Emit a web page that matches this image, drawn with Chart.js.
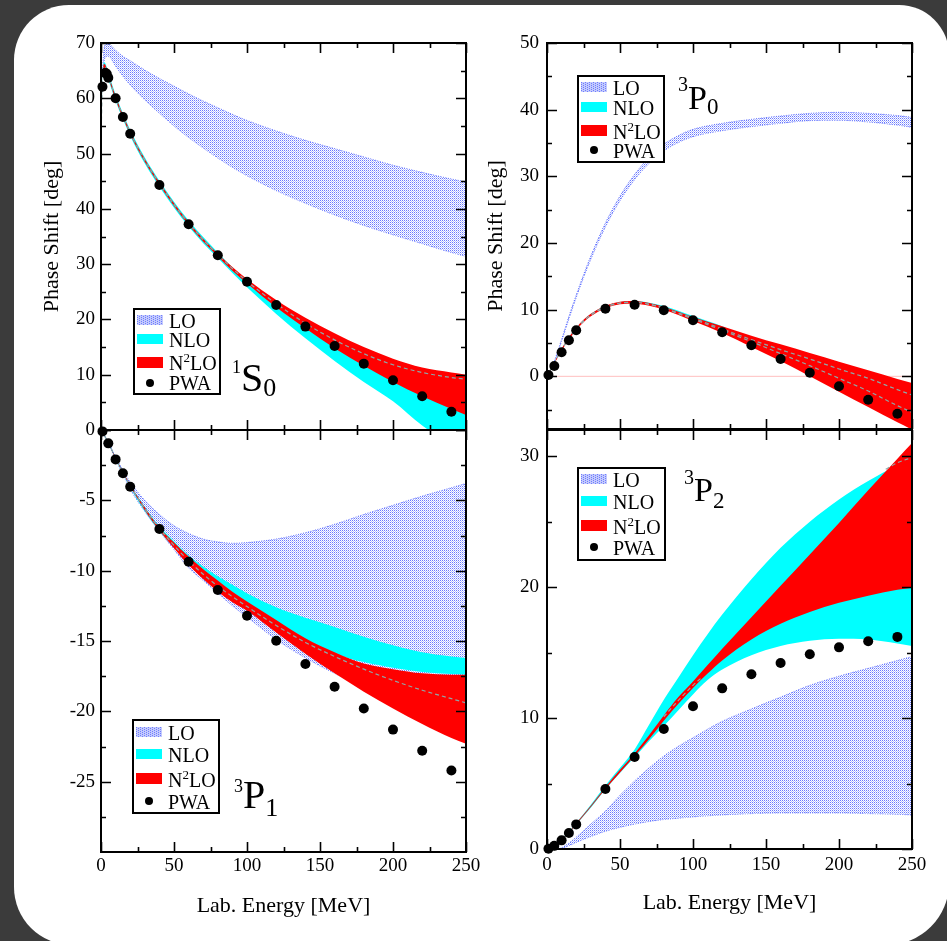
<!DOCTYPE html>
<html>
<head>
<meta charset="utf-8">
<title>NN phase shifts</title>
<script src="https://cdn.jsdelivr.net/npm/chart.js@4.4.1/dist/chart.umd.min.js"></script>
<style>
  html, body { margin: 0; padding: 0; }
  body { width: 947px; height: 941px; background: #3b3b3b; position: relative; overflow: hidden;
         font-family: "Liberation Serif", "Times New Roman", Times, serif; }
  #card { position: absolute; left: 14px; top: 5px; width: 935px; height: 940px; background: #fff;
          border-radius: 55px 50px 62px 58px; }
  canvas { position: absolute; }
  .legend { position: absolute; box-sizing: border-box; border: 2px solid #000; background: #fff; font-size: 20px; color: #000; }
  .row { position: absolute; left: 0; width: 100%; height: 20px; line-height: 20px; }
  .sw { position: absolute; left: 2px; top: 4px; width: 26px; height: 10px; }
  .sw.nlo { background: #00ffff; }
  .sw.n2 { background: #ff0000; height: 11px; top: 3.5px; }
  .sw.pwa { left: 11px; top: 5.5px; width: 8px; height: 8px; border-radius: 50%; background: #000; }
  .txt { position: absolute; left: 34px; top: 0; white-space: nowrap; }
  .txt .up { font-size: 13px; position: relative; top: -8px; }
  .wave { position: absolute; line-height: 1; color: #000; white-space: nowrap; }
  .wave span { position: relative; vertical-align: baseline; }
</style>
</head>
<body>
<div id="card"></div>
<canvas id="cS0" width="455" height="415" style="left:20px;top:30px"></canvas>
<canvas id="cP0" width="455" height="414" style="left:470px;top:30px"></canvas>
<canvas id="cP1" width="470" height="515" style="left:20px;top:420px"></canvas>
<canvas id="cP2" width="470" height="515" style="left:470px;top:420px"></canvas>

<div class="wave" style="left:232px;top:358px;font-size:40px"><span style="font-size:18px;top:-18px">1</span>S<span style="font-size:26px;top:5px">0</span></div>
<div class="wave" style="left:678px;top:81px;font-size:34px"><span style="font-size:20px;top:-18px">3</span>P<span style="font-size:23px;top:5px">0</span></div>
<div class="wave" style="left:234px;top:775px;font-size:40px"><span style="font-size:18px;top:-16px">3</span>P<span style="font-size:26px;top:8px">1</span></div>
<div class="wave" style="left:684px;top:473px;font-size:34px"><span style="font-size:20px;top:-17px">3</span>P<span style="font-size:23px;top:7px">2</span></div>

<script>
// energies [MeV] and phase shifts [deg]

const energyTicks = [0, 50, 100, 150, 200, 250];
const energyMinor = [25, 75, 125, 175, 225];

// 1S0
const s0E     = [0.3, 1, 2, 3, 5, 10, 15, 20, 30, 40, 50, 60, 70, 80, 90, 100, 120, 140, 160, 180, 200, 220, 240, 250];
const s0N2Hi  = [56.3, 63.3, 66.2, 66.0, 64.3, 60.4, 57.0, 54.0, 49.0, 44.8, 41.0, 37.6, 34.6, 31.9, 29.5, 27.3, 23.5, 20.3, 17.5, 15.0, 12.9, 11.3, 10.4, 10.0];
const s0N2Lo  = [55.7, 62.7, 65.4, 65.2, 63.7, 59.8, 56.5, 53.5, 48.5, 44.3, 40.5, 37.1, 34.1, 31.4, 28.8, 26.5, 22.2, 18.4, 14.8, 11.6, 8.7, 6.1, 3.8, 2.7];
const s0NloHi = [56.6, 63.6, 66.5, 66.3, 64.6, 60.7, 57.3, 54.3, 49.3, 45.1, 41.3, 37.9, 34.9, 32.1, 29.4, 27.0, 22.8, 19.0, 15.4, 12.2, 9.3, 6.7, 4.4, 3.3];
const s0NloLo = [55.4, 62.4, 65.1, 64.9, 63.4, 59.5, 56.2, 53.2, 48.2, 44.0, 40.2, 36.8, 33.8, 31.1, 28.4, 25.8, 21.0, 16.6, 12.5, 8.7, 5.2, 0.8, -2.6, -4.0];
const s0Dash  = [56.0, 63.0, 65.8, 65.6, 64.0, 60.1, 56.8, 53.8, 48.8, 44.6, 40.8, 37.4, 34.4, 31.7, 29.2, 26.9, 22.85, 19.3, 16.3, 13.8, 11.8, 10.4, 9.5, 9.2];
const s0LoE   = [1, 2, 3, 5, 10, 15, 20, 30, 40, 50, 60, 70, 80, 90, 100, 120, 140, 160, 180, 200, 220, 240, 250];
const s0LoHi  = [65.0, 68.8, 69.7, 69.8, 68.7, 67.6, 66.8, 65.1, 63.6, 62.2, 60.8, 59.5, 58.3, 57.1, 56.0, 54.1, 52.4, 50.9, 49.4, 47.9, 46.6, 45.4, 44.9];
const s0LoLo  = [64.0, 66.5, 67.5, 67.6, 65.8, 64.0, 62.4, 59.7, 57.3, 55.0, 52.9, 51.0, 49.2, 47.5, 46.0, 43.3, 41.0, 38.9, 37.0, 35.3, 33.7, 32.1, 31.4];
const s0PwaE  = [1, 3, 4, 5, 10, 15, 20, 40, 60, 80, 100, 120, 140, 160, 180, 200, 220, 240];
const s0Pwa   = [62.1, 64.6, 64.4, 63.7, 60.0, 56.6, 53.6, 44.3, 37.2, 31.6, 26.8, 22.6, 18.7, 15.2, 12.0, 9.0, 6.1, 3.3];
const s0YTicks = [0, 10, 20, 30, 40, 50, 60, 70];
const s0YMinor = [5, 15, 25, 35, 45, 55, 65];

// 3P0
const p0E     = [0, 5, 10, 15, 20, 25, 30, 40, 50, 60, 70, 80, 90, 100, 120, 140, 160, 180, 200, 220, 240, 250];
const p0N2Hi  = [0, 2.1, 4.15, 5.9, 7.3, 8.5, 9.4, 10.6, 11.2, 11.3, 11.0, 10.45, 9.7, 8.9, 7.5, 6.1, 4.8, 3.5, 2.2, 0.9, -0.4, -1.0];
const p0N2Lo  = [0, 1.9, 3.85, 5.5, 6.9, 8.1, 9.0, 10.2, 10.8, 10.9, 10.6, 10.0, 9.2, 8.3, 6.5, 4.4, 2.3, 0.0, -2.3, -4.6, -6.9, -8.0];
const p0NloHi = [0, 2.1, 4.1, 5.85, 7.25, 8.45, 9.35, 10.55, 11.15, 11.3, 11.05, 10.55, 9.85, 9.05, 7.5, 5.5, 4.0, 2.6, 1.1, -0.3, -2.0, -2.8];
const p0NloLo = [0, 1.95, 3.9, 5.6, 7.0, 8.2, 9.1, 10.3, 10.9, 11.0, 10.7, 10.1, 9.35, 8.5, 6.9, 5.1, 3.3, 1.5, -0.4, -2.3, -4.4, -5.4];
const p0DashA = [0, 2.0, 4.0, 5.7, 7.1, 8.3, 9.2, 10.4, 11.0, 11.1, 10.8, 10.25, 9.5, 8.75, 7.1, 5.5, 4.0, 2.6, 1.1, -0.3, -2.0, -2.8];
const p0DashB = [0, 2.0, 4.0, 5.7, 7.1, 8.3, 9.2, 10.4, 11.0, 11.1, 10.8, 10.2, 9.4, 8.6, 6.9, 5.2, 3.4, 1.6, -0.3, -2.2, -4.4, -5.4];
const p0LoHi  = [0, 2.3, 5.55, 9.0, 12.2, 15.22, 18.05, 23.0, 27.05, 30.3, 32.85, 34.8, 36.12, 37.05, 37.95, 38.55, 39.05, 39.45, 39.6, 39.45, 39.12, 38.85];
const p0LoLo  = [0, 2.1, 5.25, 8.6, 11.8, 14.78, 17.55, 22.4, 26.35, 29.5, 31.95, 33.8, 35.08, 35.95, 36.85, 37.45, 37.95, 38.35, 38.4, 38.15, 37.68, 37.35];
const p0PwaE  = [1, 5, 10, 15, 20, 40, 60, 80, 100, 120, 140, 160, 180, 200, 220, 240];
const p0Pwa   = [0.2, 1.55, 3.6, 5.4, 6.9, 10.15, 10.75, 9.9, 8.4, 6.6, 4.65, 2.6, 0.55, -1.5, -3.5, -5.6];
const p0YTicks = [0, 10, 20, 30, 40, 50];
const p0YMinor = [-5, 5, 15, 25, 35, 45];

// 3P1
const p1E     = [0, 5, 10, 15, 20, 30, 40, 50, 60, 70, 80, 90, 100, 120, 140, 160, 180, 200, 220, 240, 250];
const p1LoHi  = [0, -0.85, -1.9, -2.85, -3.7, -5.0, -6.0, -6.8, -7.35, -7.75, -7.95, -8.05, -8.0, -7.75, -7.3, -6.7, -6.0, -5.35, -4.7, -4.1, -3.8];
const p1LoLo  = [0, -0.95, -2.1, -3.15, -4.2, -5.8, -7.2, -8.5, -9.8, -10.7, -11.6, -12.5, -13.3, -14.9, -16.2, -17.3, -18.2, -19.0, -19.7, -20.4, -20.7];
const p1N2Hi  = [0, -0.88, -1.95, -2.95, -3.9, -5.5, -6.95, -8.0, -9.0, -9.9, -10.7, -11.5, -12.2, -13.5, -14.8, -15.8, -16.6, -17.0, -17.3, -17.4, -17.4];
const p1N2Lo  = [0, -0.92, -2.05, -3.05, -4.0, -5.7, -7.15, -8.4, -9.6, -10.6, -11.5, -12.25, -12.85, -14.4, -15.9, -17.3, -18.6, -19.8, -20.9, -21.9, -22.3];
const p1NloHi = [0, -0.87, -1.93, -2.93, -3.88, -5.45, -6.85, -7.9, -8.9, -9.7, -10.4, -11.0, -11.6, -12.6, -13.35, -14.0, -14.7, -15.3, -15.8, -16.1, -16.2];
const p1NloLo = [0, -0.95, -2.1, -3.1, -4.08, -5.78, -7.2, -8.35, -9.4, -10.3, -11.0, -11.8, -12.5, -13.8, -14.9, -15.9, -16.5, -16.9, -17.2, -17.35, -17.4];
const p1Dash  = [0, -0.9, -2.0, -3.0, -3.95, -5.6, -7.0, -8.2, -9.3, -10.25, -11.1, -11.85, -12.55, -13.9, -15.1, -16.1, -17.0, -17.8, -18.5, -19.1, -19.4];
const p1PwaE  = [1, 5, 10, 15, 20, 40, 60, 80, 100, 120, 140, 160, 180, 200, 220, 240];
const p1Pwa   = [-0.1, -0.95, -2.09, -3.08, -4.03, -7.04, -9.36, -11.37, -13.2, -14.98, -16.64, -18.25, -19.8, -21.3, -22.8, -24.2];
const p1YTicks = [-5, -10, -15, -20, -25];
const p1YMarks = [0, -5, -10, -15, -20, -25];
const p1YMinor = [-2.5, -7.5, -12.5, -17.5, -22.5, -27.5];

// 3P2
const p2E     = [0, 5, 10, 15, 20, 30, 40, 50, 60, 70, 80, 90, 100, 110, 120, 140, 160, 180, 200, 220, 240, 250];
const p2LoHi  = [0, 0, 0.1, 0.45, 0.9, 1.9, 2.9, 4.1, 5.2, 6.2, 7.1, 7.85, 8.5, 9.15, 9.75, 10.7, 11.6, 12.5, 13.2, 13.8, 14.4, 14.7];
const p2LoLo  = [0, 0, 0.05, 0.25, 0.5, 0.95, 1.35, 1.65, 1.9, 2.1, 2.25, 2.35, 2.45, 2.53, 2.6, 2.7, 2.75, 2.75, 2.75, 2.7, 2.65, 2.6];
const p2N2Hi  = [0, 0.32, 0.75, 1.3, 1.96, 3.3, 4.72, 6.05, 7.3, 8.7, 10.2, 11.6, 12.8, 14.05, 15.3, 17.7, 20.1, 22.5, 24.9, 27.4, 29.8, 31.0];
const p2N2Lo  = [0, 0.28, 0.69, 1.24, 1.88, 3.2, 4.58, 5.85, 7.1, 8.4, 9.8, 11.1, 12.3, 13.4, 14.4, 16.0, 17.2, 18.1, 18.8, 19.35, 19.8, 19.95];
const p2NloHi = [0, 0.33, 0.77, 1.33, 2.0, 3.38, 4.85, 6.2, 7.6, 9.5, 11.4, 13.1, 14.8, 16.4, 17.9, 20.6, 23.0, 25.0, 26.7, 28.1, 29.3, 29.8];
const p2NloLo = [0, 0.27, 0.67, 1.22, 1.85, 3.15, 4.55, 5.8, 7.0, 8.25, 9.4, 10.6, 11.8, 12.9, 13.7, 14.8, 15.5, 15.9, 16.05, 16.0, 15.7, 15.5];
const p2DashE = [80, 90, 100, 106];
const p2Dash  = [10.1, 11.35, 12.5, 13.1];
const p2DashTopE = [232, 240, 250];
const p2DashTop  = [29.0, 29.5, 29.9];
const p2PwaE  = [1, 5, 10, 15, 20, 40, 60, 80, 100, 120, 140, 160, 180, 200, 220, 240];
const p2Pwa   = [0.02, 0.25, 0.66, 1.22, 1.88, 4.58, 7.03, 9.17, 10.9, 12.27, 13.34, 14.2, 14.87, 15.4, 15.86, 16.2];
const p2YTicks = [0, 10, 20, 30];
const p2YMinor = [5, 15, 25];

const FONT = '"Liberation Serif", "Times New Roman", Times, serif';

function pts(E, v) {
  return E.map((e, i) => ({x: e, y: v[i]}));
}

// small dotted tile for the LO band
const tile = document.createElement('canvas');
tile.width = tile.height = 2;
const tctx = tile.getContext('2d');
tctx.fillStyle = 'rgb(105,120,255)';
tctx.fillRect(0, 0, 1, 1);
tctx.fillStyle = 'rgb(185,193,255)';
tctx.fillRect(1, 1, 1, 1);

// frame with inward ticks on all four sides
const frameTicks = {
  id: 'frameTicks',
  afterDraw(chart, args, o) {
    const {ctx, chartArea: a} = chart;
    const xs = chart.scales.x, ys = chart.scales.y;
    ctx.save();
    ctx.strokeStyle = '#000';
    ctx.lineWidth = 1.6;
    ctx.beginPath();
    const vx = (vals, len) => vals.forEach(v => {
      const p = Math.round(xs.getPixelForValue(v)) + 0.5;
      ctx.moveTo(p, a.top); ctx.lineTo(p, a.top + len);
      ctx.moveTo(p, a.bottom); ctx.lineTo(p, a.bottom - len);
    });
    const vy = (vals, len) => vals.forEach(v => {
      const p = Math.round(ys.getPixelForValue(v)) + 0.5;
      ctx.moveTo(a.left, p); ctx.lineTo(a.left + len, p);
      ctx.moveTo(a.right, p); ctx.lineTo(a.right - len, p);
    });
    vx(o.xMajor, 10); vx(o.xMinor, 5);
    vy(o.yMajor, 10); vy(o.yMinor, 5);
    ctx.stroke();
    ctx.lineWidth = 2;
    ctx.strokeRect(a.left, a.top, a.right - a.left, a.bottom - a.top);
    ctx.restore();
  }
};

function band(list, E, hi, lo, color) {
  list.push({data: pts(E, hi), fill: '+1', backgroundColor: color, borderColor: 'rgba(0,0,0,0)', borderWidth: 0,
             pointRadius: 0, cubicInterpolationMode: 'monotone'});
  list.push({data: pts(E, lo), fill: false, borderColor: 'rgba(0,0,0,0)', borderWidth: 0,
             pointRadius: 0, cubicInterpolationMode: 'monotone'});
}

function loBand(list, E, hi, lo, pattern) {
  const edge = {borderColor: 'rgba(70,90,255,0.8)', borderWidth: 1, borderDash: [1, 1.5], pointRadius: 0, cubicInterpolationMode: 'monotone'};
  list.push(Object.assign({data: pts(E, hi), fill: '+1', backgroundColor: pattern}, edge));
  list.push(Object.assign({data: pts(E, lo), fill: false}, edge));
}

function dashed(list, E, v) {
  list.push({data: pts(E, v), fill: false, borderColor: '#8ea8a8', borderWidth: 1.2, borderDash: [4, 3],
             pointRadius: 0, cubicInterpolationMode: 'monotone'});
}

function makePanel(id, p) {
  const ctx = document.getElementById(id).getContext('2d');
  const pattern = ctx.createPattern(tile, 'repeat');
  const ds = [];
  ds.push({data: pts(p.pwaE, p.pwa), showLine: false, pointRadius: 5, pointHoverRadius: 5,
           pointBackgroundColor: '#000', pointBorderWidth: 0, clip: false});
  p.dashes.forEach(d => dashed(ds, d[0], d[1]));
  band(ds, p.E, p.n2Hi, p.n2Lo, '#ff0000');
  band(ds, p.E, p.nloHi, p.nloLo, '#00ffff');
  loBand(ds, p.loE, p.loHi, p.loLo, pattern);
  if (p.zeroLine) {
    ds.push({data: pts([0, 250], [0, 0]), fill: false, borderColor: 'rgba(255,150,150,0.6)', borderWidth: 1, pointRadius: 0});
  }

  return new Chart(ctx, {
    type: 'line',
    data: {datasets: ds},
    plugins: [frameTicks],
    options: {
      responsive: false,
      animation: false,
      events: [],
      layout: {padding: {top: p.padTop, right: p.padRight, left: 0, bottom: 0}},
      plugins: {
        legend: {display: false},
        tooltip: {enabled: false},
        frameTicks: {xMajor: energyTicks, xMinor: energyMinor, yMajor: p.yMarks || p.yTicks, yMinor: p.yMinor}
      },
      scales: {
        x: {
          type: 'linear', min: 0, max: 250,
          grid: {display: false, drawTicks: false},
          border: {display: false},
          ticks: {display: p.showX, color: '#000', padding: p.xPad, font: {family: FONT, size: 19}},
          title: {display: p.showX, text: 'Lab. Energy [MeV]', color: '#000', font: {family: FONT, size: 22},
                  padding: {top: 0, bottom: p.xTitlePad}},
          afterBuildTicks: s => { s.ticks = energyTicks.map(v => ({value: v})); },
          afterFit: s => { s.height = p.xH; s.paddingLeft = 0; s.paddingRight = 0; }
        },
        y: {
          type: 'linear', min: p.yMin, max: p.yMax,
          grid: {display: false, drawTicks: false},
          border: {display: false},
          ticks: {color: '#000', padding: p.yPad, font: {family: FONT, size: 19}},
          title: {display: p.showY, text: 'Phase Shift [deg]', color: '#000', font: {family: FONT, size: 22},
                  padding: {top: p.yTitlePad, bottom: 0}},
          afterBuildTicks: s => { s.ticks = p.yTicks.map(v => ({value: v})); },
          afterFit: s => { s.width = p.yW; s.paddingTop = 0; s.paddingBottom = 0; }
        }
      }
    }
  });
}

makePanel('cS0', {
  E: s0E, n2Hi: s0N2Hi, n2Lo: s0N2Lo, nloHi: s0NloHi, nloLo: s0NloLo,
  loE: s0LoE, loHi: s0LoHi, loLo: s0LoLo, pwaE: s0PwaE, pwa: s0Pwa,
  dashes: [[s0E, s0Dash]],
  yMin: 0, yMax: 70, yTicks: s0YTicks, yMinor: s0YMinor,
  padTop: 13, padRight: 9, yW: 81, xH: 15, yPad: 6, xPad: 3,
  showX: false, showY: true, yTitlePad: 19, xTitlePad: 0
});

makePanel('cP0', {
  E: p0E, n2Hi: p0N2Hi, n2Lo: p0N2Lo, nloHi: p0NloHi, nloLo: p0NloLo,
  loE: p0E, loHi: p0LoHi, loLo: p0LoLo, pwaE: p0PwaE, pwa: p0Pwa,
  dashes: [[p0E, p0DashA], [p0E, p0DashB]], zeroLine: true,
  yMin: -7.9, yMax: 50, yTicks: p0YTicks, yMinor: p0YMinor,
  padTop: 13, padRight: 13, yW: 77, xH: 15, yPad: 8, xPad: 3,
  showX: false, showY: true, yTitlePad: 13, xTitlePad: 0
});

makePanel('cP1', {
  E: p1E, n2Hi: p1N2Hi, n2Lo: p1N2Lo, nloHi: p1NloHi, nloLo: p1NloLo,
  loE: p1E, loHi: p1LoHi, loLo: p1LoLo, pwaE: p1PwaE, pwa: p1Pwa,
  dashes: [[p1E, p1Dash]],
  yMin: -30, yMax: 0, yTicks: p1YTicks, yMarks: p1YMarks, yMinor: p1YMinor,
  padTop: 10, padRight: 24, yW: 81, xH: 83, yPad: 6, xPad: 3,
  showX: true, showY: false, yTitlePad: 0, xTitlePad: 16
});

makePanel('cP2', {
  E: p2E, n2Hi: p2N2Hi, n2Lo: p2N2Lo, nloHi: p2NloHi, nloLo: p2NloLo,
  loE: p2E, loHi: p2LoHi, loLo: p2LoLo, pwaE: p2PwaE, pwa: p2Pwa,
  dashes: [[p2DashE, p2Dash], [p2DashTopE, p2DashTop]],
  yMin: 0, yMax: 32, yTicks: p2YTicks, yMinor: p2YMinor,
  padTop: 10, padRight: 28, yW: 77, xH: 86, yPad: 8, xPad: 5,
  showX: true, showY: false, yTitlePad: 0, xTitlePad: 19
});

// legends, drawn as html boxes inside the plots
const legendItems = [['lo', 'LO'], ['nlo', 'NLO'], ['n2', 'N<span class="up">2</span>LO'], ['pwa', 'PWA']];

function loSwatch(cv) {
  const g = cv.getContext('2d');
  g.fillStyle = 'rgb(196,202,252)';
  g.fillRect(0, 0, 26, 10);
  g.fillStyle = 'rgb(110,125,255)';
  for (let i = 0; i < 26; i += 2) {
    for (let j = (i / 2) % 2; j < 10; j += 2) g.fillRect(i, j, 1, 1);
  }
}

function addLegend(x, y, w, h, baselines) {
  const box = document.createElement('div');
  box.className = 'legend';
  Object.assign(box.style, {left: x + 'px', top: y + 'px', width: w + 'px', height: h + 'px'});
  legendItems.forEach((it, i) => {
    const row = document.createElement('div');
    row.className = 'row';
    row.style.top = (baselines[i] - 2 - 16.75) + 'px';
    if (it[0] === 'lo') {
      row.innerHTML = '<canvas class="sw" width="26" height="10"></canvas><div class="txt">' + it[1] + '</div>';
      loSwatch(row.querySelector('canvas'));
    } else {
      row.innerHTML = '<div class="sw ' + it[0] + '"></div><div class="txt">' + it[1] + '</div>';
    }
    box.appendChild(row);
  });
  document.body.appendChild(box);
}

addLegend(133, 308, 88, 87, [20, 38.7, 62, 82]);
addLegend(577, 75, 88, 88, [20, 40, 63.3, 82.3]);
addLegend(132, 719, 88, 95, [21, 42.7, 67.7, 89.3]);
addLegend(577, 467, 89, 94, [20, 41.7, 66.7, 87.7]);
</script>
</body>
</html>
